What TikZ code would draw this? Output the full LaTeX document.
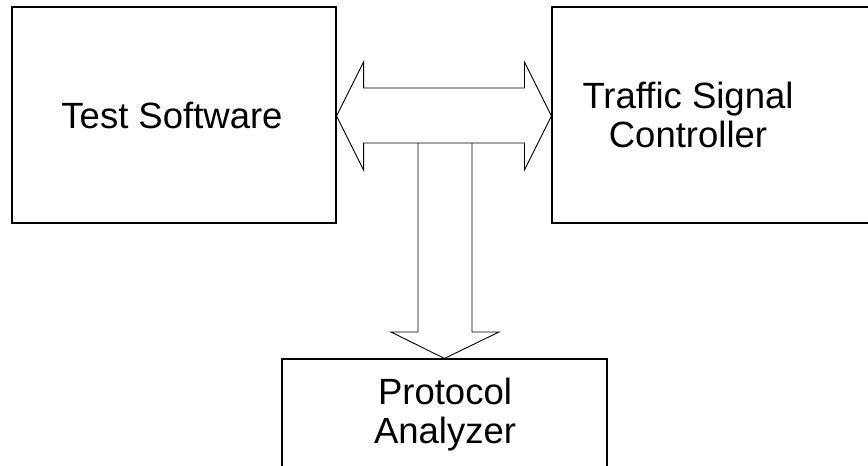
\documentclass[tikz,border=0pt]{standalone}
\usepackage{fontspec}
\setmainfont{Liberation Sans}
\usetikzlibrary{calc}
\begin{document}
\begin{tikzpicture}[x=1pt,y=-1pt,
  box/.style={draw=black,line width=1.1pt,rectangle,inner sep=0pt},
  blockarrow/.style={draw=black,line width=0.9pt,line join=miter},
  lbl/.style={font=\fontsize{36.5}{36.5}\selectfont,anchor=base,inner sep=0pt}]
\useasboundingbox (0,0) rectangle (868,466);
\clip (0,0) rectangle (868,466);
% boxes
\node[box,minimum width=324pt,minimum height=216pt] (ts) at (174,115) {};
\node[box,minimum width=330pt,minimum height=216pt] (tsc) at (717,115) {};
\node[box,minimum width=325pt,minimum height=130pt] (pa) at (444.5,424) {};
% texts
\node[lbl] (tstext) at (172,128) {Test Software};
\node[lbl] (tsc1) at (688,108) {Traffic Signal};
\node[lbl] (tsc2) at (688,147) {Controller};
\node[lbl] (pa1) at (445,404) {Protocol};
\node[lbl] (pa2) at (445,443) {Analyzer};
% double arrow between the two boxes
\coordinate (L) at (ts.east |- 0,116);
\coordinate (R) at (tsc.west |- 0,116);
\draw[blockarrow]
  (L) -- ($(L)+(27,-54)$) -- ($(L)+(27,-28)$) -- ($(R)+(-27,-28)$) -- ($(R)+(-27,-54)$)
  -- (R) -- ($(R)+(-27,54)$) -- ($(R)+(-27,27)$) -- ($(L)+(27,27)$) -- ($(L)+(27,54)$) -- cycle;
% down arrow to protocol analyzer
\coordinate (T) at (pa.north);
\draw[blockarrow]
  (418,143) -- (418,332) -- (391,332) -- (T) -- (499,332) -- (472,332) -- (472,143);
\end{tikzpicture}
\end{document}
